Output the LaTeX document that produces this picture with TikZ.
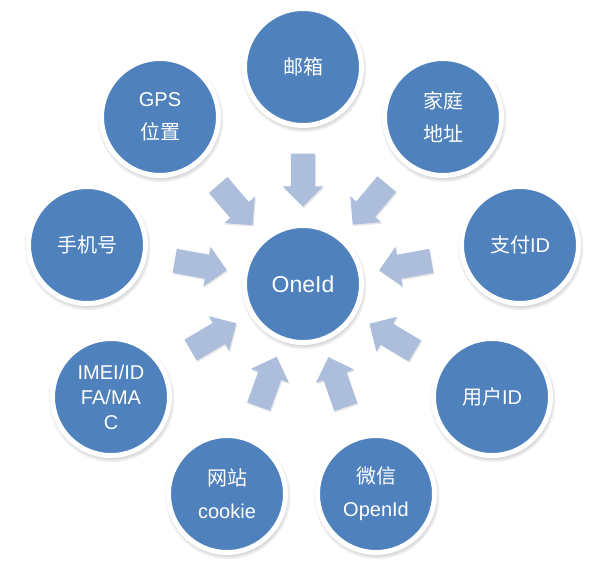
\documentclass[tikz,border=0pt]{standalone}
\usepackage{fontspec}
\setmainfont{Liberation Sans}
\newfontfamily\cjk{Noto Sans CJK SC}
\usetikzlibrary{shapes.arrows,shadows,calc}
\definecolor{nodeblue}{RGB}{79,129,189}
\definecolor{arrowblue}{RGB}{172,190,220}
\begin{document}
\begin{tikzpicture}[x=1pt,y=-1pt,
  idnode/.style={circle, fill=nodeblue, draw=white, line width=5pt,
    minimum size=117pt, inner sep=0pt, text=white, align=center,
    font=\fontsize{20}{33}\selectfont,
    circular drop shadow={opacity=0.45, fill=black!70, shadow scale=1.08, shadow xshift=0.5pt, shadow yshift=-2pt}},
  flowarrow/.style={single arrow, fill=arrowblue, draw=none,
    minimum height=53pt, inner sep=12pt, single arrow head extend=8pt,
    drop shadow={opacity=0.15, fill=black!60, shadow xshift=1pt, shadow yshift=-1.5pt}}]
\useasboundingbox (0,0) rectangle (613,571);
\fill[white] (0,0) rectangle (613,571);
% nodes
\node[idnode] (mail)  at (303,67)  {{\cjk 邮箱}};
\node[idnode] (gps)   at (160,117) {GPS\\{\cjk 位置}};
\node[idnode] (home)  at (443,117) {{\cjk 家庭}\\{\cjk 地址}};
\node[idnode] (phone) at (87,245)  {{\cjk 手机号}};
\node[idnode] (pay)   at (520,245) {{\cjk 支付}ID};
\node[idnode, font=\fontsize{20}{25}\selectfont] (imei) at (111,397) {IMEI/ID\\FA/MA\\C};
\node[idnode] (user)  at (492,397) {{\cjk 用户}ID};
\node[idnode] (web)   at (227,494) {{\cjk 网站}\\cookie};
\node[idnode] (wx)    at (376,494) {{\cjk 微信}\\OpenId};
\node[idnode, font=\fontsize{23}{28}\selectfont] (c) at (303,284) {OneId};
% arrows
\foreach \s in {mail,gps,home,phone,pay,imei,user,web,wx} {
  \path let \p1=($(c.center)-(\s.center)$), \n1={atan2(\y1,\x1)} in
    node[flowarrow, rotate=\n1] (a-\s) at ($(c.center)!110pt!(\s.center)$) {};
}
\end{tikzpicture}
\end{document}
